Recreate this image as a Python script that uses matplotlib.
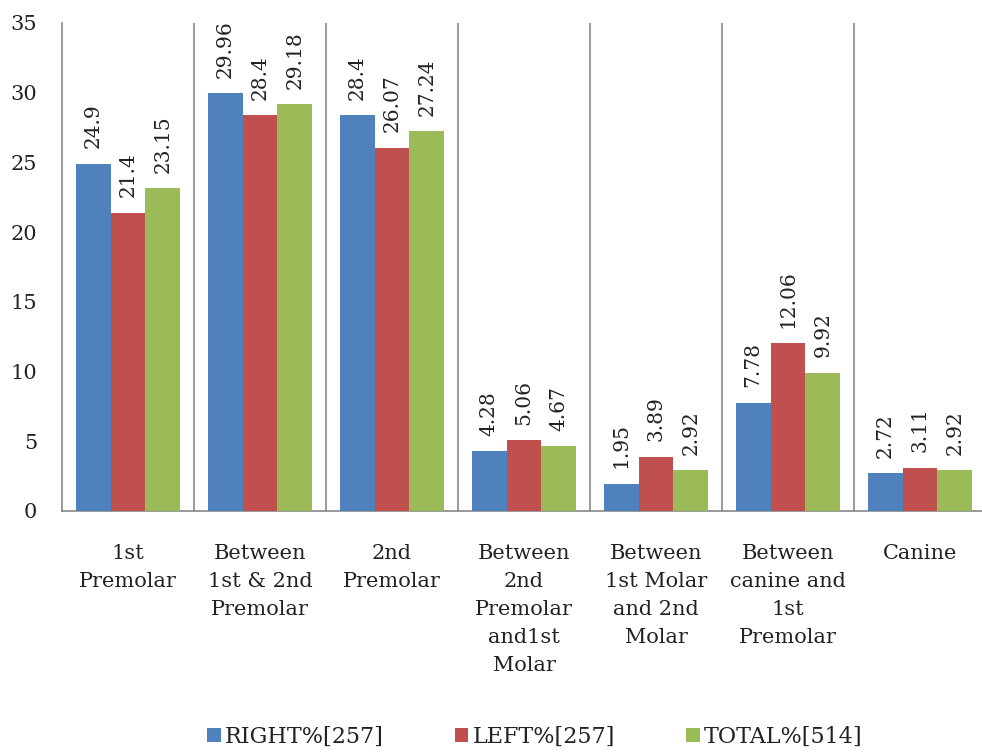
import matplotlib.pyplot as plt
import numpy as np

categories = ["1st\nPremolar", "Between\n1st & 2nd\nPremolar", "2nd\nPremolar",
              "Between\n2nd\nPremolar\nand1st\nMolar", "Between\n1st Molar\nand 2nd\nMolar",
              "Between\ncanine and\n1st\nPremolar", "Canine"]
right = [24.9, 29.96, 28.4, 4.28, 1.95, 7.78, 2.72]
left = [21.4, 28.4, 26.07, 5.06, 3.89, 12.06, 3.11]
total = [23.15, 29.18, 27.24, 4.67, 2.92, 9.92, 2.92]
series_names = ["RIGHT%[257]", "LEFT%[257]", "TOTAL%[514]"]
colors = ["#4F81BD", "#C0504D", "#9BBB59"]

plt.rcParams["font.family"] = "DejaVu Serif"

fig = plt.figure(figsize=(9.82, 7.54), dpi=100)
ax = fig.add_axes([62/982, 1 - 511/754, 924/982, 488/754])

x = np.arange(len(categories))
w = 0.265
for i, (vals, name, c) in enumerate(zip([right, left, total], series_names, colors)):
    bars = ax.bar(x + (i - 1) * w, vals, w, color=c, label=name, zorder=3)
    for b, v in zip(bars, vals):
        ax.text(b.get_x() + b.get_width() / 2, v + 1.1, f"{v:g}", rotation=90,
                ha="center", va="bottom", fontsize=14.5, color="#222222")

ax.set_xlim(-0.5, len(categories) - 0.5)
ax.set_ylim(0, 35)
ax.set_yticks(range(0, 36, 5))
ax.set_xticks(x)
ax.set_xticklabels(categories, va="top", linespacing=1.6)
ax.tick_params(axis="x", length=0, pad=24, labelsize=15, colors="#222222")
ax.tick_params(axis="y", length=0, pad=18, labelsize=15, colors="#222222")

for b in np.arange(0.5, len(categories) - 0.5, 1):
    ax.axvline(b, color="#888888", lw=1.2, zorder=1)

for s in ["top", "right"]:
    ax.spines[s].set_visible(False)
for s in ["left", "bottom"]:
    ax.spines[s].set_color("#888888")
    ax.spines[s].set_linewidth(1.2)

ax.legend(loc="center", bbox_to_anchor=(535/982, 1 - 737/754), bbox_transform=fig.transFigure,
          ncol=3, frameon=False, fontsize=16, handlelength=0.6, handleheight=0.6,
          handletextpad=0.2, columnspacing=3.2, labelcolor="#222222")

fig.savefig("out.png", dpi=100)
